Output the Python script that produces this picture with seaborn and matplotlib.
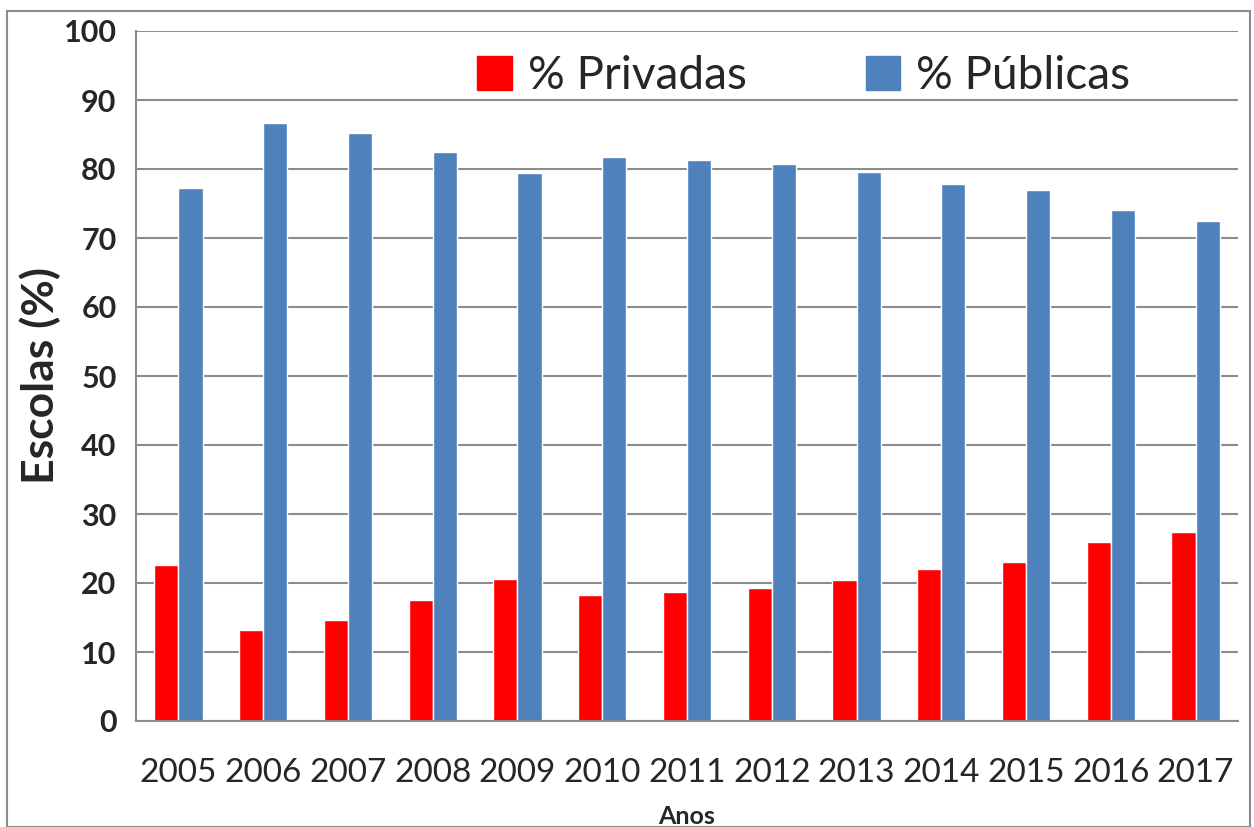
import pandas as pd
import numpy as np
import matplotlib
matplotlib.use('Agg')
import matplotlib.pyplot as plt
import seaborn as sns
from matplotlib.patches import Rectangle

# Datos
anos = ['2005', '2006', '2007', '2008', '2009', '2010', '2011',
        '2012', '2013', '2014', '2015', '2016', '2017']
privadas = [22.6, 13.2, 14.7, 17.6, 20.6, 18.3, 18.7, 19.3, 20.4, 22.1, 23.0, 25.9, 27.4]
publicas = [77.3, 86.7, 85.2, 82.4, 79.4, 81.7, 81.3, 80.7, 79.6, 77.8, 77.0, 74.0, 72.5]
series = ['% Privadas', '% Públicas']
colores = ['#FF0000', '#4F81BD']

df = pd.DataFrame({
    'Ano': anos * 2,
    'Valor': privadas + publicas,
    'Serie': [series[0]] * len(anos) + [series[1]] * len(anos),
})

sns.set_style('white')
plt.rcParams['font.family'] = ['Lato', 'DejaVu Sans']

fig = plt.figure(figsize=(12.54, 8.27), dpi=100)
ax = fig.add_axes([136 / 1254, 1 - 721 / 827, (1238 - 136) / 1254, (721 - 31) / 827])

sns.barplot(data=df, x='Ano', y='Valor', hue='Serie', palette=colores,
            width=0.57, saturation=1, ax=ax, legend=False)

ax.set_ylim(0, 100)
ax.set_xlim(-0.5, len(anos) - 0.5)
ax.set_yticks(range(0, 101, 10))
ax.yaxis.grid(True, color='#8C8C8C', linewidth=1.5)
ax.set_axisbelow(True)

for s in ['top', 'right']:
    ax.spines[s].set_visible(False)
for s in ['left', 'bottom']:
    ax.spines[s].set_color('#8C8C8C')
    ax.spines[s].set_linewidth(1.5)

ax.tick_params(axis='y', length=8, width=1.5, color='#8C8C8C', labelsize=22, pad=6)
for lab in ax.get_yticklabels():
    lab.set_fontweight('bold')
ax.tick_params(axis='x', which='major', length=0, labelsize=24, pad=27)
ax.set_xticks(np.arange(-0.5, len(anos), 1), minor=True)
ax.tick_params(axis='x', which='minor', length=12, width=1.5, color='#8C8C8C')

ax.set_ylabel('Escolas (%)', fontsize=32, fontweight='bold', labelpad=2)
ax.set_xlabel('Anos', fontsize=18, fontweight='bold', labelpad=12)

handles = [Rectangle((0, 0), 1, 1, color=c) for c in colores]
ax.legend(handles, series, loc='upper center', bbox_to_anchor=(0.606, 1.025), ncol=2,
          frameon=False, fontsize=33, handlelength=0.75, handleheight=0.75,
          columnspacing=2.6, handletextpad=0.35)

fig.patches.append(Rectangle((7 / 1254, 0), 1243 / 1254, 1 - 11 / 827, transform=fig.transFigure,
                             fill=False, edgecolor='#8C8C8C', linewidth=1.5))

fig.savefig('out.png', dpi=100)
